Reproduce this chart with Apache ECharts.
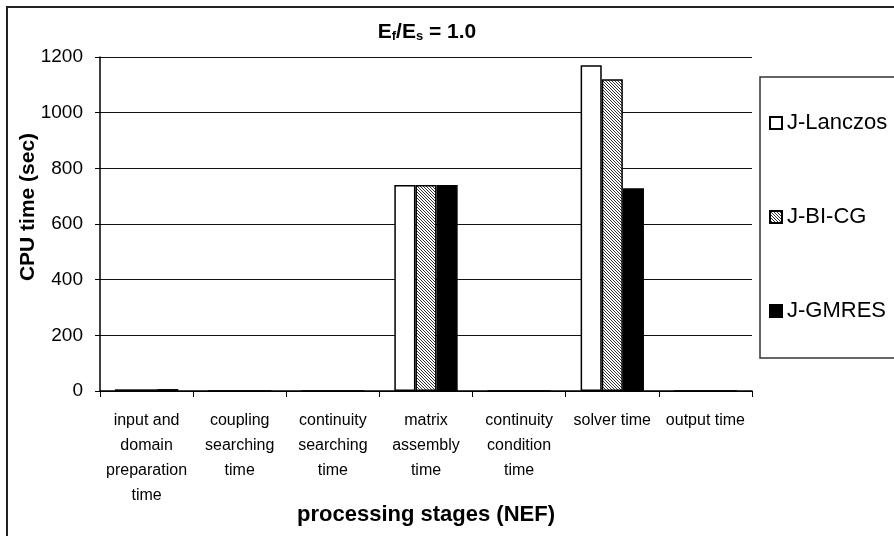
<!DOCTYPE html>
<html>
<head>
<meta charset="utf-8">
<script src="https://cdn.jsdelivr.net/npm/echarts@6/dist/echarts.min.js"></script>
<style>
html, body { margin: 0; padding: 0; background: #fff; }
#chart { width: 894px; height: 536px; }
</style>
</head>
<body>
<div id="chart"></div>
<script>
const stages = [
    'input and\ndomain\npreparation\ntime',
    'coupling\nsearching\ntime',
    'continuity\nsearching\ntime',
    'matrix\nassembly\ntime',
    'continuity\ncondition\ntime',
    'solver time',
    'output time'
]
const lanczos = [6, 0, 0, 740, 0, 1170, 0]
const bicg = [6, 0, 0, 740, 0, 1120, 0]
const gmres = [7, 0, 0, 740, 0, 728, 0]

// fine diagonal hatch for the BI-CG bars
const makeHatch = function () {
    const c = document.createElement('canvas')
    c.width = 3
    c.height = 3
    const ctx = c.getContext('2d')
    ctx.fillStyle = '#fff'
    ctx.fillRect(0, 0, 3, 3)
    ctx.fillStyle = '#333'
    ctx.fillRect(0, 0, 1, 1)
    ctx.fillRect(1, 1, 1, 1)
    ctx.fillRect(2, 2, 1, 1)
    return c
}
const hatch = { image: makeHatch(), repeat: 'repeat' }

const font = '"Liberation Sans", Arial, sans-serif'
const chart = echarts.init(document.getElementById('chart'))
const barStyle = { borderColor: '#000', borderWidth: 1.5 }

const option = {
    animation: false,
    textStyle: { fontFamily: font, color: '#000' },
    title: {
        text: '{b|E}{s|f}{b|/E}{s|s}{b| = 1.0}',
        left: 422,
        top: 17,
        textAlign: 'center',
        textStyle: {
            rich: {
                b: { fontSize: 21, fontWeight: 'bold', fontFamily: font, color: '#000' },
                s: { fontSize: 13, fontWeight: 'bold', fontFamily: font, color: '#000', verticalAlign: 'bottom', padding: [8, 0, 0, 0] }
            }
        }
    },
    graphic: [{
        type: 'rect',
        shape: { x: 7, y: 7, width: 900, height: 540 },
        style: { fill: 'none', stroke: '#222', lineWidth: 2 },
        silent: true
    }],
    legend: {
        orient: 'vertical',
        left: 760,
        top: 77,
        padding: [35, 20, 36, 9],
        itemGap: 72,
        itemWidth: 12,
        itemHeight: 12,
        icon: 'rect',
        borderColor: '#333',
        borderWidth: 1.5,
        textStyle: { fontSize: 22, fontFamily: font, color: '#000' },
        data: ['J-Lanczos', 'J-BI-CG', 'J-GMRES']
    },
    grid: { left: 100, right: 142, top: 57, bottom: 145, containLabel: false, outerBoundsMode: 'none' },
    xAxis: {
        type: 'category',
        data: stages,
        name: 'processing stages (NEF)',
        nameLocation: 'middle',
        nameMoveOverlap: false,
        nameGap: 113,
        nameTextStyle: { fontSize: 22, fontWeight: 'bold', fontFamily: font, color: '#000' },
        axisLine: { lineStyle: { color: '#000', width: 1.5 } },
        axisTick: { show: true, length: 6, lineStyle: { color: '#000' } },
        axisLabel: {
            interval: 0,
            fontSize: 16,
            lineHeight: 25,
            margin: 17,
            color: '#000',
            fontFamily: font
        },
        splitLine: { show: false }
    },
    yAxis: {
        type: 'value',
        min: 0,
        max: 1200,
        interval: 200,
        name: 'CPU time (sec)',
        nameLocation: 'middle',
        nameMoveOverlap: false,
        nameGap: 61,
        nameTextStyle: { fontSize: 21, fontWeight: 'bold', fontFamily: font, color: '#000', padding: [0, 0, 0, 34] },
        axisLine: { show: true, lineStyle: { color: '#000', width: 1.5 } },
        axisTick: { show: true, length: 5, lineStyle: { color: '#000' } },
        axisLabel: {
            fontSize: 19,
            margin: 17,
            color: '#000',
            fontFamily: font,
            formatter: v => String(v)
        },
        splitLine: { show: true, lineStyle: { color: '#111', width: 1 } }
    },
    series: [
        {
            name: 'J-Lanczos',
            type: 'bar',
            barCategoryGap: '32%',
            barGap: '0%',
            itemStyle: Object.assign({ color: '#fff' }, barStyle),
            data: lanczos
        },
        {
            name: 'J-BI-CG',
            type: 'bar',
            barGap: '0%',
            itemStyle: Object.assign({ color: hatch }, barStyle),
            data: bicg
        },
        {
            name: 'J-GMRES',
            type: 'bar',
            barGap: '0%',
            itemStyle: Object.assign({ color: '#000' }, barStyle),
            data: gmres
        }
    ]
}

option && chart.setOption(option)
</script>
</body>
</html>
